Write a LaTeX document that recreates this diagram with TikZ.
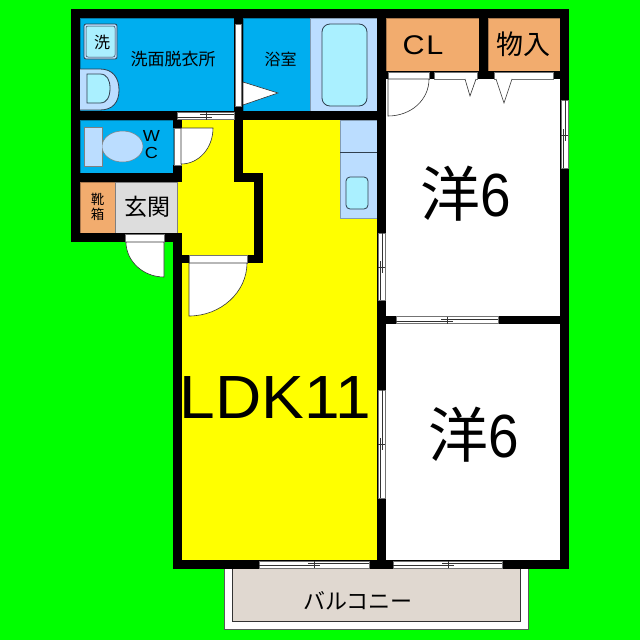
\documentclass[tikz,border=0pt]{standalone}
\usepackage{fontspec}
\setmainfont{Liberation Sans}
\newfontfamily\jp{Noto Sans CJK JP}
\newfontfamily\wide[FakeStretch=1.13]{Liberation Sans}
\newfontfamily\ldkfont[FakeStretch=1.05]{Liberation Sans}
\newfontfamily\narrow[FakeStretch=0.9]{Liberation Sans}
\newfontfamily\widespaced[FakeStretch=1.13,LetterSpace=6]{Liberation Sans}
\definecolor{bgG}{HTML}{00FF00}
\definecolor{wetB}{HTML}{00AEEF}
\definecolor{fixB}{HTML}{BBDDFF}
\definecolor{fixC}{HTML}{AAF0FF}
\definecolor{orng}{HTML}{F2AC6E}
\definecolor{entG}{HTML}{DDDDDD}
\definecolor{balc}{HTML}{E0D8D0}
\definecolor{ln}{HTML}{2F3F4F}
\definecolor{yel}{HTML}{FFFF00}
\tikzset{
 x=1pt,y=-1pt,
 room/.style={fill=#1,draw=#1!70!black,line width=.5pt},
 wall/.style={fill=black,draw=none},
 fixture/.style={fill=#1,draw=ln,line width=.8pt},
 panel/.style={fill=white,draw=black!80,line width=.6pt},
 sash/.style={fill=white,draw=black!55,line width=.7pt},
 rail/.style={draw=black!80,line width=.6pt},
 lab/.style={inner sep=0pt,text=black,align=center},
}
% horizontal window: x0 x1 y0 y1 tick
\newcommand\hwin[5]{%
 \draw[sash] (#1,#3) rectangle (#2,#4);
 \draw[rail] (#5-6,#3+2.5) -- (#2,#3+2.5);
 \draw[rail] (#1,#4-2.5) -- (#5+6,#4-2.5);
 \draw[rail] (#5,#3) -- (#5,#4);}
% vertical window: x0 x1 y0 y1 tick
\newcommand\vwin[5]{%
 \draw[sash] (#1,#3) rectangle (#2,#4);
 \draw[rail] (#1+2.5,#5-6) -- (#1+2.5,#4);
 \draw[rail] (#2-2.5,#3) -- (#2-2.5,#5+6);
 \draw[rail] (#1,#5) -- (#2,#5);}
\begin{document}
\begin{tikzpicture}
\useasboundingbox (0,0) rectangle (640,640);
\fill[bgG] (0,0) rectangle (640,640);
% balcony
\draw[fill=white,draw=black!65,line width=.8pt] (224,560) rectangle (528,629);
\draw[room=balc,draw=black!80] (232,560) rectangle (520,621);
% floor areas
\fill[white] (386,70) rectangle (560,560);
\fill[yel] (177,111) rectangle (377,560);
\draw[room=wetB] (80,18) rectangle (234,111);
\draw[room=wetB] (243,18) rectangle (310,111);
\draw[room=fixB] (310,18) rectangle (377,111);
\draw[room=wetB] (80,120) rectangle (173,173);
\draw[room=orng] (80,182) rectangle (115.5,233);
\draw[fill=entG,draw=black!50,line width=.5pt] (115.5,182) rectangle (177,233);
\draw[room=orng] (386,18) rectangle (479,71);
\draw[room=orng] (488,18) rectangle (560,71);
\draw[room=fixB] (340,120) rectangle (377,218);
\draw[draw=ln,line width=.8pt] (340,152) -- (377,152);
% fixtures
\draw[fixture=fixC,rounded corners=8pt] (322,24) rectangle (367,106);
\draw[fixture=fixC,rounded corners=4pt] (346,177) rectangle (368,209);
\draw[fixture=fixB,rounded corners=2pt] (84,24) rectangle (117,59);
\draw[fill=fixC,draw=ln,line width=.5pt,rounded corners=2pt] (86,26) rectangle (115,57);
\draw[fixture=fixB] (80,69) -- (100,69) .. controls (113,69) and (119,78) .. (119,90) .. controls (119,102) and (113,110) .. (100,110) -- (80,110);
\draw[fixture=fixC] (87,74) -- (100,74) .. controls (107,74) and (110,80) .. (110,88) .. controls (110,97) and (107,103) .. (100,103) -- (87,103) -- cycle;
\draw[fill=fixB,draw=black!50,line width=.5pt] (84,127) rectangle (102,166);
\draw[fill=fixB,draw=black!50,line width=.5pt] (122.5,146.5) ellipse [x radius=20.5,y radius=15.5];
\fill[fixB] (98,133) rectangle (102,160);
% walls
\fill[wall] (71,9) rectangle (569,18);
\fill[wall] (71,9) rectangle (80,242);
\fill[wall] (560,9) rectangle (569,569);
\fill[wall] (71,233) rectangle (182,242);
\fill[wall] (173,233) rectangle (182,569);
\fill[wall] (173,560) rectangle (569,569);
\fill[wall] (377,9) rectangle (386,569);
\fill[wall] (234,9) rectangle (243,120);
\fill[wall] (80,111) rectangle (386,120);
\fill[wall] (80,173) rectangle (182,182);
\fill[wall] (173,111) rectangle (182,128);
\fill[wall] (173,165) rectangle (182,173);
\fill[wall] (234,120) rectangle (243,182);
\fill[wall] (234,173) rectangle (263,182);
\fill[wall] (254,173) rectangle (263,263);
\fill[wall] (182,255) rectangle (263,263);
\fill[wall] (479,9) rectangle (488,79);
\fill[wall] (386,71) rectangle (560,79);
\fill[wall] (386,316) rectangle (560,324);
% openings
\draw[sash] (235,24) rectangle (241.5,106.5);
\draw[sash] (174.5,128) rectangle (181,165);
\draw[sash] (125,234) rectangle (164,242);
\draw[sash] (189,255) rectangle (247,263);
\draw[sash] (388,72) rectangle (429,79);
\draw[sash] (434,72) rectangle (477,79);
\draw[sash] (494,72) rectangle (553,79);
% door panels
\draw[panel] (243,82) -- (278,93) -- (243,105) -- cycle;
\draw[panel] (181,128) -- (213,128) .. controls (213,148) and (199,164) .. (181,164) -- cycle;
\draw[panel] (164,242) -- (126,242) .. controls (126,261) and (143,277) .. (164,277) -- cycle;
\draw[panel] (189,263) -- (247,263) .. controls (247,292) and (221,316) .. (189,316) -- cycle;
\draw[panel] (388,79) -- (429,79) .. controls (429,100) and (411,116) .. (388,116) -- cycle;
\draw[panel] (465,79) -- (470,96) -- (476,79);
\draw[panel] (496,79) -- (504,103) -- (512,79);
% windows
\hwin{177}{234}{112}{119.5}{206}
\hwin{259}{369}{561}{568}{314}
\hwin{393}{502}{561}{568}{448}
\hwin{396}{498}{316.5}{323.5}{447}
\vwin{561}{568}{100}{168}{135}
\vwin{378}{385}{233}{300}{267}
\vwin{378}{385}{390}{498}{444}
% labels
\node[lab] (wash) at (102,42) {\jp\fontsize{16}{16}\selectfont 洗};
\node[lab] (dress) at (173,59.5) {\jp\fontsize{17}{17}\selectfont 洗面脱衣所};
\node[lab] (bath) at (280.5,59.5) {\jp\fontsize{16}{16}\selectfont 浴室};
\node[lab] (w) at (151.5,136) {\wide\fontsize{16}{16}\selectfont W};
\node[lab] (c) at (151.5,153) {\wide\fontsize{16}{16}\selectfont C};
\node[lab,font=\jp\fontsize{13.5}{15}\selectfont] (shoe) at (97.5,207) {靴\\箱};
\node[lab] (ent) at (147,207) {\jp\fontsize{23}{23}\selectfont 玄関};
\node[lab] (cl) at (423,45) {\widespaced\fontsize{27}{27}\selectfont CL};
\node[lab] (stor) at (523.5,44) {\jp\fontsize{27}{27}\selectfont 物入};
\node[lab] (r1) at (465.5,193.5) {{\jp\fontsize{60}{60}\selectfont 洋}\narrow\fontsize{61}{61}\selectfont 6};
\node[lab] (r2) at (473.5,434.5) {{\jp\fontsize{60}{60}\selectfont 洋}\narrow\fontsize{61}{61}\selectfont 6};
\node[lab] (ldk) at (275.5,398) {\ldkfont\fontsize{61}{61}\selectfont LDK11};
\node[lab] (bal) at (358,601) {\jp\fontsize{22}{22}\selectfont バルコニー};
\end{tikzpicture}
\end{document}
